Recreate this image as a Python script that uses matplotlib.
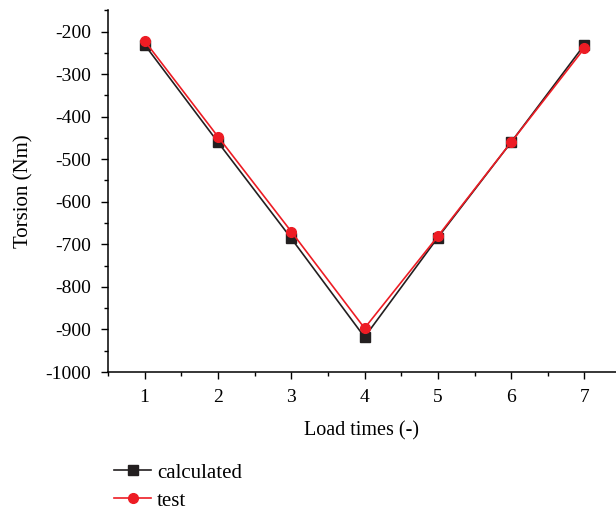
import matplotlib
matplotlib.use("Agg")
import matplotlib.pyplot as plt
from matplotlib.ticker import MultipleLocator

# load cases and torsion values (Nm)
load_times = [1, 2, 3, 4, 5, 6, 7]
calculated = [-231, -460, -686, -918, -684, -460, -231]
test = [-222, -447, -670, -897, -681, -460, -239]

plt.rcParams['font.family'] = ['Liberation Serif', 'DejaVu Serif']
plt.rcParams['font.size'] = 14
plt.rcParams['axes.unicode_minus'] = False

fig = plt.figure(figsize=(6.16, 5.11), dpi=100)
ax = fig.add_axes([0.1753, 0.272, 0.8247, 0.708])

ax.plot(load_times, calculated, color='#231f20', marker='s', markersize=7,
        linewidth=1.2, label='calculated')
ax.plot(load_times, test, color='#ed1c24', marker='o', markersize=7,
        linewidth=1.2, label='test')

ax.set_xlim(0.5, 7.43)
ax.set_ylim(-1000, -150)
ax.xaxis.set_major_locator(MultipleLocator(1))
ax.xaxis.set_minor_locator(MultipleLocator(0.5))
ax.yaxis.set_major_locator(MultipleLocator(100))
ax.yaxis.set_minor_locator(MultipleLocator(50))
ax.tick_params(which='major', direction='out', length=5, width=1, pad=7)
ax.tick_params(which='minor', direction='out', length=3, width=1)

for side in ('top', 'right'):
    ax.spines[side].set_visible(False)
for side in ('left', 'bottom'):
    ax.spines[side].set_linewidth(1.1)

ax.set_xlabel('Load times (-)', fontsize=14.5, labelpad=11)
ax.set_ylabel('Torsion (Nm)', fontsize=15, labelpad=9)

handles, labels = ax.get_legend_handles_labels()
fig.legend(handles, labels, loc='upper left', bbox_to_anchor=(0.172, 0.11),
           frameon=False, fontsize=15, handlelength=1.75, handletextpad=0.3,
           labelspacing=0.4, borderaxespad=0)

fig.savefig('out.png', dpi=100)
